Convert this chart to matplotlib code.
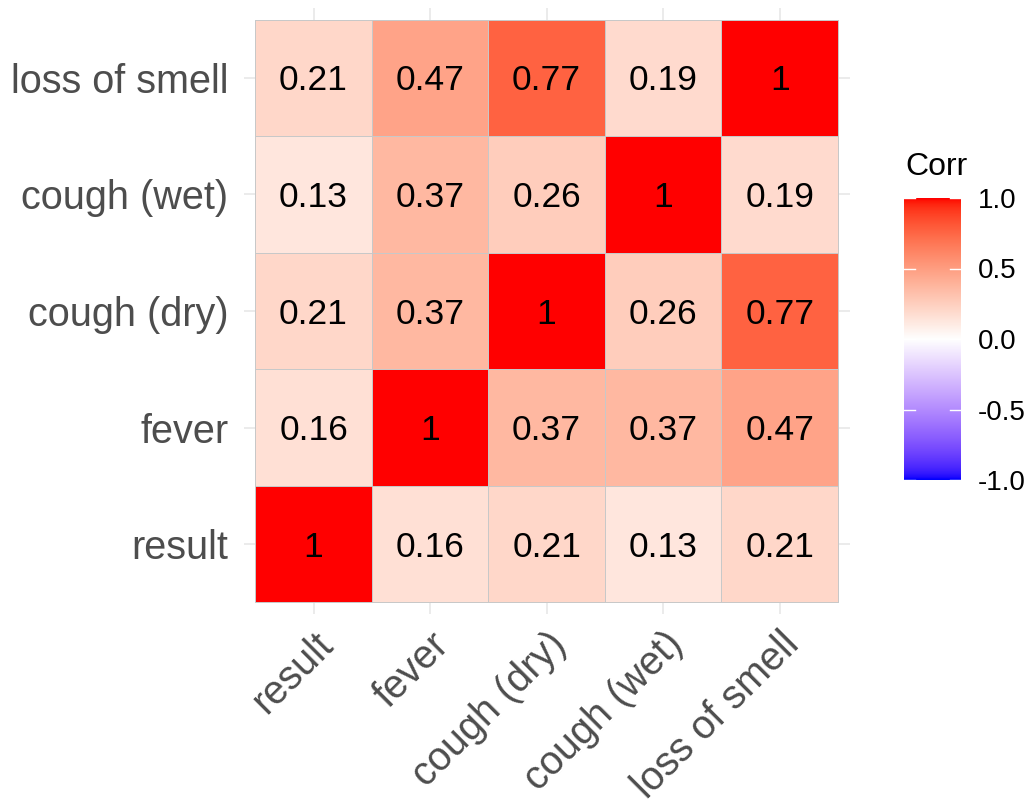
import numpy as np
import matplotlib
matplotlib.use("Agg")
import matplotlib.pyplot as plt
from matplotlib.colors import ListedColormap, Normalize
from matplotlib.transforms import ScaledTranslation

# ---- data ----
variables = ["result", "fever", "cough (dry)", "cough (wet)", "loss of smell"]
corr = np.array([
    [1.00, 0.16, 0.21, 0.13, 0.21],
    [0.16, 1.00, 0.37, 0.37, 0.47],
    [0.21, 0.37, 1.00, 0.26, 0.77],
    [0.13, 0.37, 0.26, 1.00, 0.19],
    [0.21, 0.47, 0.77, 0.19, 1.00],
])
cbar_ticks = [-1.0, -0.5, 0.0, 0.5, 1.0]
cbar_labels = ["-1.0", "-0.5", "0.0", "0.5", "1.0"]

# ---- Lab-space diverging gradient (blue - white - red) ----
def srgb_to_lab(rgb):
    rgb = np.asarray(rgb, float)
    lin = np.where(rgb <= 0.04045, rgb / 12.92, ((rgb + 0.055) / 1.055) ** 2.4)
    M = np.array([[0.4124564, 0.3575761, 0.1804375],
                  [0.2126729, 0.7151522, 0.0721750],
                  [0.0193339, 0.1191920, 0.9503041]])
    xyz = lin @ M.T
    white = np.array([0.95047, 1.0, 1.08883])
    t = xyz / white
    f = np.where(t > (6/29) ** 3, np.cbrt(t), t / (3 * (6/29) ** 2) + 4/29)
    L = 116 * f[..., 1] - 16
    a = 500 * (f[..., 0] - f[..., 1])
    b = 200 * (f[..., 1] - f[..., 2])
    return np.stack([L, a, b], -1)

def lab_to_srgb(lab):
    lab = np.asarray(lab, float)
    fy = (lab[..., 0] + 16) / 116
    fx = fy + lab[..., 1] / 500
    fz = fy - lab[..., 2] / 200
    f = np.stack([fx, fy, fz], -1)
    t = np.where(f > 6/29, f ** 3, 3 * (6/29) ** 2 * (f - 4/29))
    white = np.array([0.95047, 1.0, 1.08883])
    xyz = t * white
    Minv = np.array([[3.2404542, -1.5371385, -0.4985314],
                     [-0.9692660, 1.8760108, 0.0415560],
                     [0.0556434, -0.2040259, 1.0572252]])
    lin = xyz @ Minv.T
    lin = np.clip(lin, 0, 1)
    rgb = np.where(lin <= 0.0031308, 12.92 * lin, 1.055 * lin ** (1/2.4) - 0.055)
    return np.clip(rgb, 0, 1)

lab_low = srgb_to_lab([0, 0, 1])
lab_mid = srgb_to_lab([1, 1, 1])
lab_high = srgb_to_lab([1, 0, 0])
vals = np.linspace(-1, 1, 513)
labs = []
for v in vals:
    if v < 0:
        w = -v
        labs.append(lab_mid * (1 - w) + lab_low * w)
    else:
        labs.append(lab_mid * (1 - v) + lab_high * v)
cmap = ListedColormap(lab_to_srgb(np.array(labs)))
norm = Normalize(-1, 1)

# ---- figure ----
plt.rcParams['font.family'] = ['Liberation Sans', 'DejaVu Sans']
fig = plt.figure(figsize=(10.30, 8.01), dpi=100)
ax = fig.add_axes([243.6 / 1030, 187 / 801, 606 / 1030, 606 / 801])
n = len(variables)
ax.set_xlim(-0.6, n - 0.4)
ax.set_ylim(-0.6, n - 0.4)
ax.set_axisbelow(True)
for k in range(n):
    ax.axvline(k, color="#EBEBEB", lw=1.4, zorder=0)
    ax.axhline(k, color="#EBEBEB", lw=1.4, zorder=0)

ax.pcolormesh(np.arange(n + 1) - 0.5, np.arange(n + 1) - 0.5, corr,
              cmap=cmap, norm=norm, edgecolor="#C8C8C8", linewidth=0.7, zorder=1)
shift = ScaledTranslation(0, -0.125, fig.dpi_scale_trans)
for i in range(n):
    for j in range(n):
        v = corr[i, j]
        s = "1" if v == 1 else f"{v:g}"
        ax.text(j, i, s, ha="center", va="baseline", fontsize=25.5, color="black",
                zorder=2, transform=ax.transData + shift)

for sp in ax.spines.values():
    sp.set_visible(False)
ax.set_xticks(range(n))
ax.set_yticks(range(n))
ax.set_xticklabels(variables, rotation=45, ha="right", va="top",
                   rotation_mode="anchor", fontsize=28.5, color="#4D4D4D")
ax.set_yticklabels(variables, fontsize=28.5, color="#4D4D4D")
ylshift = ScaledTranslation(0, -0.025, fig.dpi_scale_trans)
for lab in ax.get_yticklabels():
    lab.set_transform(lab.get_transform() + ylshift)
ax.tick_params(axis="both", length=0)
ax.tick_params(axis="y", pad=11)
ax.tick_params(axis="x", pad=8)

# ---- colorbar ----
cax = fig.add_axes([904 / 1030, (801 - 480) / 801, 57 / 1030, 282 / 801])
grad = np.linspace(-1, 1, 300).reshape(-1, 1)
cax.imshow(grad, aspect="auto", cmap=cmap, norm=norm, origin="lower",
           extent=[0, 1, -1, 1])
cax.set_xlim(0, 1)
cax.set_ylim(-1, 1)
for t in cbar_ticks:
    cax.plot([0, 0.2], [t, t], color="white", lw=1.0)
    cax.plot([0.8, 1], [t, t], color="white", lw=1.0)
for sp in cax.spines.values():
    sp.set_visible(False)
cax.set_xticks([])
cax.yaxis.tick_right()
cax.set_yticks(cbar_ticks)
cax.set_yticklabels(cbar_labels, fontsize=20, color="black")
cax.tick_params(axis="y", length=0, pad=12)
fig.text(905 / 1030, 1 - 175 / 801, "Corr", fontsize=23, color="black",
         ha="left", va="baseline")

fig.savefig("out.png", dpi=100)
